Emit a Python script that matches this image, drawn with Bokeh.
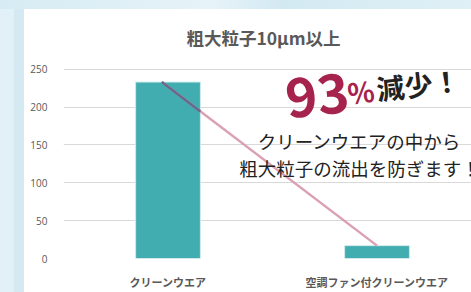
from bokeh.plotting import figure
from bokeh.models import Range1d, FixedTicker, Label
from bokeh.embed import file_html
from bokeh.resources import INLINE

# ---- data ----
categories = ["クリーンウエア", "空調ファン付クリーンウエア"]
values = [233, 17]
y_ticks = [0, 50, 100, 150, 200, 250]
title_text = "粗大粒子10μm以上"
big_number = "93"
big_unit = "%"
big_word = "減少！"
note_lines = ["クリーンウエアの中から", "粗大粒子の流出を防ぎます！"]

W, H = 471, 292
LEFT, BOTTOM = 63, 31
JP = "Noto Sans CJK JP"
TEAL = "#42adb0"
GRAY = "#595959"

xs = [i + 0.5 for i in range(len(categories))]

p = figure(width=W, height=H, output_backend="svg", toolbar_location=None,
           x_range=Range1d(0.0, 1.952), y_range=Range1d(0, 340.7),
           min_border_left=LEFT, min_border_right=0, min_border_top=0,
           min_border_bottom=BOTTOM)
p.border_fill_color = None
p.background_fill_color = None
p.outline_line_color = None
p.styles = {"background": "linear-gradient(#ffffff,#ffffff) 24px 9px / 100% 100% no-repeat, "
                          "linear-gradient(#d4e9f2,#d4e9f2) 14px 9px / 10px 100% no-repeat, "
                          "linear-gradient(100deg,#d6ebf3 0%,#e6f3f8 45%,#d3e9f2 60%,#dff0f6 100%) "
                          "0px 0px / 100% 9px no-repeat, #e2f1f7"}

# grid
p.xgrid.visible = False
p.ygrid.ticker = FixedTicker(ticks=y_ticks)
p.ygrid.grid_line_color = "#d9d9d9"
p.ygrid.grid_line_width = 1

# axes
p.yaxis.ticker = FixedTicker(ticks=y_ticks)
p.yaxis.axis_line_color = None
p.yaxis.major_tick_line_color = None
p.yaxis.minor_tick_line_color = None
p.yaxis.major_label_standoff = 10
p.yaxis.major_label_text_font = "Open Sans"
p.yaxis.major_label_text_font_size = "10px"
p.yaxis.major_label_text_color = GRAY

p.xaxis.ticker = FixedTicker(ticks=xs)
p.xaxis.major_label_overrides = {x: c for x, c in zip(xs, categories)}
p.xaxis.axis_line_color = None
p.xaxis.major_tick_line_color = None
p.xaxis.minor_tick_line_color = None
p.xaxis.major_label_standoff = 9
p.xaxis.major_label_text_font = JP
p.xaxis.major_label_text_font_size = "11px"
p.xaxis.major_label_text_font_style = "bold"
p.xaxis.major_label_text_color = GRAY

# bars
bar_w = 0.31
p.vbar(x=xs, top=values, width=bar_w, fill_color=TEAL, line_color="#cfeaea", line_width=1)

# connecting line
x0, x1 = xs[0] - 0.03, xs[1]
y0, y1 = values[0], values[1]
p.line(x=[x0, x1], y=[y0, y1], line_color="#d89bb0", line_width=2.5, line_alpha=0.95)
xe = xs[0] + bar_w / 2
ye = y0 + (y1 - y0) * (xe - x0) / (x1 - x0)
p.line(x=[x0, xe], y=[y0, ye], line_color="#66698a", line_width=2.5)


def label(fx, fy, text, **kw):
    # fx, fy: pixel position from the figure's top-left; converted to frame-relative screen units
    p.add_layout(Label(x=fx - LEFT, y=(H - BOTTOM) - fy, x_units="screen", y_units="screen",
                       text=text, **kw))


# title
label(263, 40, title_text, text_font=JP, text_font_size="17.5px", text_font_style="bold",
      text_color=GRAY, text_align="center", text_baseline="middle")

# big call-out
ang = 0.11
label(285, 101, big_number, text_font=JP, text_font_size="54px", text_font_style="bold",
      text_color="#a6234d", text_align="left", text_baseline="middle", angle=ang)
label(347, 95, big_unit, text_font=JP, text_font_size="28px", text_font_style="bold",
      text_color="#a6234d", text_align="left", text_baseline="middle", angle=ang)
label(376, 91, big_word, text_font=JP, text_font_size="28px", text_font_style="bold",
      text_color="#222222", text_align="left", text_baseline="middle", angle=ang)

# note lines
for i, t in enumerate(note_lines):
    label(359, 143 + 27 * i, t, text_font=JP, text_font_size="18.5px", text_color="#222222",
          text_align="center", text_baseline="middle")

open("out.html", "w").write(file_html(p, INLINE))
